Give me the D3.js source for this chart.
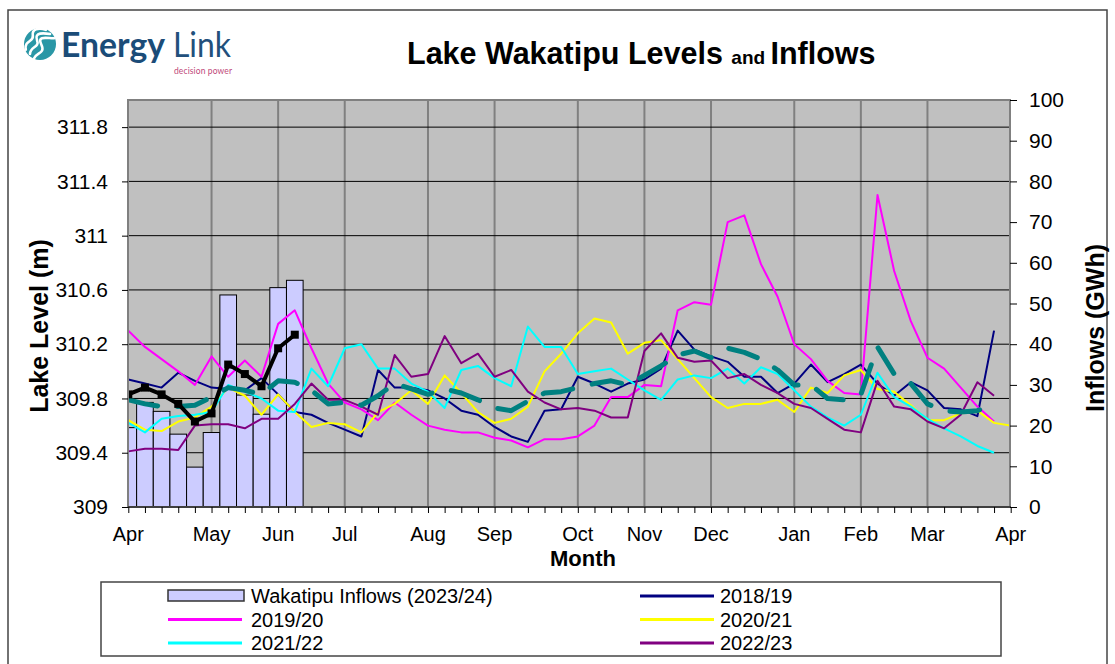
<!DOCTYPE html>
<html><head><meta charset="utf-8">
<script src="https://cdn.jsdelivr.net/npm/d3@7"></script>
<style>
body{margin:0;background:#fff;}
svg{display:block;font-family:"Liberation Sans",Arial,sans-serif;}
</style>
</head><body>
<svg id="c" width="1115" height="664"></svg>
<script>
// ---------------- data ----------------
const monthLabels = ["Apr","May","Jun","Jul","Aug","Sep","Oct","Nov","Dec","Jan","Feb","Mar","Apr"];
const monthWeeks  = [0,5,9,13,18,22,27,31,35,40,44,48,53];
const leftTicks   = [309,309.4,309.8,310.2,310.6,311,311.4,311.8];
const rightTicks  = [0,10,20,30,40,50,60,70,80,90,100];

const inflows2324 = [19.5,25.7,23.5,17.9,9.8,18.3,52.1,27.5,22.8,53.9,55.7];
const level2324   = [309.83,309.88,309.83,309.76,309.63,309.69,310.05,309.98,309.89,310.17,310.27];

const level1819 = [309.94,309.91,309.88,309.99,309.93,309.88,309.87,309.86,309.95,309.83,309.70,309.68,309.62,309.57,309.52,310.01,309.88,309.88,309.86,309.80,309.71,309.68,309.59,309.52,309.48,309.71,309.72,309.96,309.91,309.85,309.91,309.94,310.02,310.30,310.16,310.11,310.07,309.96,309.96,309.84,309.91,310.05,309.92,309.98,310.05,309.91,309.82,309.92,309.86,309.73,309.72,309.67,310.30];
const level1920 = [310.30,310.18,310.09,310.00,309.90,310.11,309.96,310.08,309.96,310.35,310.45,310.17,309.91,309.77,309.72,309.64,309.77,309.68,309.60,309.57,309.55,309.55,309.51,309.49,309.44,309.50,309.50,309.52,309.60,309.81,309.81,309.90,309.89,310.45,310.51,310.49,311.10,311.15,310.79,310.55,310.20,310.09,309.93,309.84,309.83,311.30,310.74,310.37,310.10,310.02,309.88,309.74,309.63];
const level2021 = [309.64,309.57,309.56,309.63,309.66,309.74,309.88,309.82,309.68,309.83,309.70,309.59,309.62,309.61,309.55,309.70,309.76,309.86,309.76,309.97,309.84,309.70,309.62,309.65,309.74,310.00,310.13,310.28,310.39,310.36,310.13,310.21,310.23,310.09,309.95,309.81,309.73,309.76,309.76,309.79,309.70,309.88,309.84,309.97,310.01,309.87,309.85,309.75,309.64,309.64,309.69,309.71,309.62,309.60];
const level2122 = [309.62,309.55,309.65,309.67,309.68,309.70,309.90,309.85,309.80,309.71,309.70,310.02,309.89,310.17,310.20,310.02,310.02,309.91,309.85,309.73,310.01,310.04,309.95,309.89,310.33,310.18,310.18,309.98,310.00,310.02,309.94,309.86,309.79,309.94,309.97,309.95,310.02,309.91,310.03,309.98,309.86,309.74,309.66,309.60,309.68,309.99,309.81,309.74,309.65,309.58,309.52,309.45,309.40];
const level2223 = [309.41,309.43,309.43,309.42,309.60,309.61,309.61,309.58,309.65,309.65,309.76,309.91,309.79,309.79,309.74,309.68,310.12,309.96,309.98,310.26,310.06,310.13,309.96,310.01,309.85,309.77,309.72,309.73,309.71,309.66,309.66,310.15,310.28,310.10,310.07,310.08,309.95,309.98,309.90,309.84,309.76,309.73,309.65,309.57,309.55,309.93,309.74,309.72,309.63,309.58,309.68,309.92,309.82];
const levelAvg  = [309.79,309.76,309.74,309.74,309.75,309.81,309.88,309.86,309.83,309.93,309.92,309.86,309.76,309.77,309.75,309.82,309.91,309.87,309.83,309.87,309.84,309.79,309.73,309.71,309.78,309.84,309.85,309.88,309.91,309.93,309.90,309.97,310.04,310.12,310.15,310.10,310.17,310.14,310.09,310.01,309.90,309.90,309.80,309.79,309.83,310.18,309.98,309.91,309.76,309.71,309.70,309.71,309.76];

const seriesNames = ["2018/19","2019/20","2020/21","2021/22","2022/23"];
const seriesData  = [level1819, level1920, level2021, level2122, level2223];
const seriesColors = ["#000080","#FF00FF","#FFFF00","#00FFFF","#800080"];

// ---------------- layout ----------------
const svg = d3.select("#c");
const L = 128, R = 1010, T = 100, B = 507;

const x  = d3.scaleLinear().domain([0,53]).range([128.3,1010.7]);
const yL = d3.scaleLinear().domain([309,312]).range([B,T]);
const yR = d3.scaleLinear().domain([0,100]).range([B,T]);

// outer frame
svg.append("rect").attr("x",8).attr("y",10).attr("width",1099).attr("height",670)
  .attr("fill","#fff").attr("stroke","#444").attr("stroke-width",1.5);

// logo
const logo = svg.append("g");
logo.append("circle").attr("cx",40).attr("cy",44).attr("r",16).attr("fill","#2a97a6");
[-6,0,6].forEach(o=>{
  logo.append("path")
    .attr("d",`M${30+o*0.7} ${54+o*0.7} C ${30+o} ${46+o}, ${40+o} ${48+o}, ${37+o*0.7} ${40+o*0.7} S ${44+o} ${33+o}, ${50+o*0.7} ${34+o*0.7}`)
    .attr("fill","none").attr("stroke","#fff").attr("stroke-width",2.6).attr("stroke-linecap","round");
});
logo.append("text").attr("x",61).attr("y",57).attr("font-family","Lato,'Open Sans',sans-serif")
  .attr("font-size",34).attr("font-weight",700).attr("fill","#1b4c78")
  .attr("textLength",104).attr("lengthAdjust","spacingAndGlyphs").text("Energy");
logo.append("text").attr("x",173).attr("y",57).attr("font-family","Lato,'Open Sans',sans-serif")
  .attr("font-size",34).attr("font-weight",400).attr("fill","#22507c")
  .attr("textLength",58).attr("lengthAdjust","spacingAndGlyphs").text("Link");
logo.append("text").attr("x",174).attr("y",73.5).attr("font-family","Lato,'Open Sans',sans-serif")
  .attr("font-size",8.5).attr("fill","#c0497a").attr("textLength",58).text("decision power");

// title
const title = svg.append("text").attr("x",407).attr("y",64).attr("font-weight","bold").attr("font-size",30.5).attr("fill","#000");
title.append("tspan").text("Lake Wakatipu Levels ");
title.append("tspan").attr("font-size",19).text("and ");
title.append("tspan").text("Inflows");

// plot background
svg.append("rect").attr("x",L).attr("y",T).attr("width",R-L).attr("height",B-T).attr("fill","#C0C0C0");

// vertical month gridlines
svg.append("g").selectAll("line").data(monthWeeks.slice(1,-1)).join("line")
  .attr("x1",d=>x(d)).attr("x2",d=>x(d)).attr("y1",T).attr("y2",B)
  .attr("stroke","#808080").attr("stroke-width",2);

// horizontal gridlines
svg.append("g").selectAll("line").data(leftTicks.slice(1)).join("line")
  .attr("x1",L).attr("x2",R).attr("y1",d=>yL(d)).attr("y2",d=>yL(d))
  .attr("stroke","#000").attr("stroke-width",1);

// clip
svg.append("clipPath").attr("id","clip").append("rect").attr("x",L).attr("y",T).attr("width",R-L).attr("height",B-T);
const plot = svg.append("g").attr("clip-path","url(#clip)");

// bars
const bw = x(1)-x(0);
plot.append("g").selectAll("rect").data(inflows2324).join("rect")
  .attr("x",(d,i)=>x(i)-bw/2).attr("width",bw)
  .attr("y",d=>yR(d)).attr("height",d=>B-yR(d))
  .attr("fill","#CCCCFF").attr("stroke","#000").attr("stroke-width",1);

// plot border
svg.append("rect").attr("x",L).attr("y",T).attr("width",R-L).attr("height",B-T)
  .attr("fill","none").attr("stroke","#808080").attr("stroke-width",2);

// lines
const line = d3.line().x((d,i)=>x(i)).y(d=>yL(d));
seriesData.forEach((s,k)=>{
  plot.append("path").datum(s).attr("d",line).attr("fill","none")
    .attr("stroke",seriesColors[k]).attr("stroke-width",2).attr("stroke-linejoin","round");
});
plot.append("path").datum(levelAvg).attr("d",line).attr("fill","none")
  .attr("stroke","#008080").attr("stroke-width",5).attr("stroke-dasharray","30,20")
  .attr("stroke-linecap","round").attr("stroke-linejoin","round");
plot.append("path").datum(level2324).attr("d",line).attr("fill","none")
  .attr("stroke","#000").attr("stroke-width",4).attr("stroke-linejoin","round");
plot.append("g").selectAll("rect").data(level2324).join("rect")
  .attr("x",(d,i)=>x(i)-4).attr("y",d=>yL(d)-4).attr("width",8).attr("height",8).attr("fill","#000");

// axes
const axL = svg.append("g").attr("transform",`translate(${L},0)`)
  .call(d3.axisLeft(yL).tickValues(leftTicks).tickSize(6).tickPadding(14).tickFormat(d=>String(+d.toFixed(1))));
const axR = svg.append("g").attr("transform",`translate(${R},0)`)
  .call(d3.axisRight(yR).tickValues(rightTicks).tickSize(7).tickPadding(12).tickFormat(d3.format("d")));
const axB = svg.append("g").attr("transform",`translate(0,${B})`)
  .call(d3.axisBottom(x).tickValues(d3.range(54)).tickSize(6).tickFormat(""));
[axL,axR,axB].forEach(a=>{
  a.select(".domain").remove();
  a.selectAll(".tick line").attr("stroke","#000");
  a.selectAll("text").attr("font-size",21).attr("fill","#000").attr("font-family","'Liberation Sans',Arial,sans-serif");
});
svg.append("line").attr("x1",L).attr("x2",R+1).attr("y1",B).attr("y2",B).attr("stroke","#000").attr("stroke-width",1);

// month labels
svg.append("g").selectAll("text").data(monthLabels).join("text")
  .attr("x",(d,i)=>x(monthWeeks[i])).attr("y",541).attr("text-anchor","middle")
  .attr("font-size",20).text(d=>d);

// axis titles
svg.append("text").attr("x",583).attr("y",566).attr("text-anchor","middle").attr("font-weight","bold").attr("font-size",22).text("Month");
svg.append("text").attr("transform","translate(48,326) rotate(-90)").attr("text-anchor","middle")
  .attr("font-weight","bold").attr("font-size",25).text("Lake Level (m)");
svg.append("text").attr("transform","translate(1104,328) rotate(-90)").attr("text-anchor","middle")
  .attr("font-weight","bold").attr("font-size",25).text("Inflows (GWh)");

// legend
const lg = svg.append("g");
lg.append("rect").attr("x",101).attr("y",582).attr("width",900).attr("height",74)
  .attr("fill","#fff").attr("stroke","#444").attr("stroke-width",1.5);
lg.append("rect").attr("x",168).attr("y",590).attr("width",76).attr("height",11)
  .attr("fill","#CCCCFF").attr("stroke","#333").attr("stroke-width",1.5);
const legItems = [["Wakatipu Inflows (2023/24)",null,0,0],[seriesNames[0],seriesColors[0],1,0],
  [seriesNames[1],seriesColors[1],0,1],[seriesNames[2],seriesColors[2],1,1],
  [seriesNames[3],seriesColors[3],0,2],[seriesNames[4],seriesColors[4],1,2]];
legItems.forEach(([name,col,c,r])=>{
  const sx = c===0?168:640, tx = c===0?251:720, yy = 596+r*23.5;
  if(col) lg.append("line").attr("x1",sx).attr("x2",sx+74).attr("y1",yy).attr("y2",yy).attr("stroke",col).attr("stroke-width",3);
  lg.append("text").attr("x",tx).attr("y",yy+7).attr("font-size",20).text(name);
});
</script>
</body></html>
